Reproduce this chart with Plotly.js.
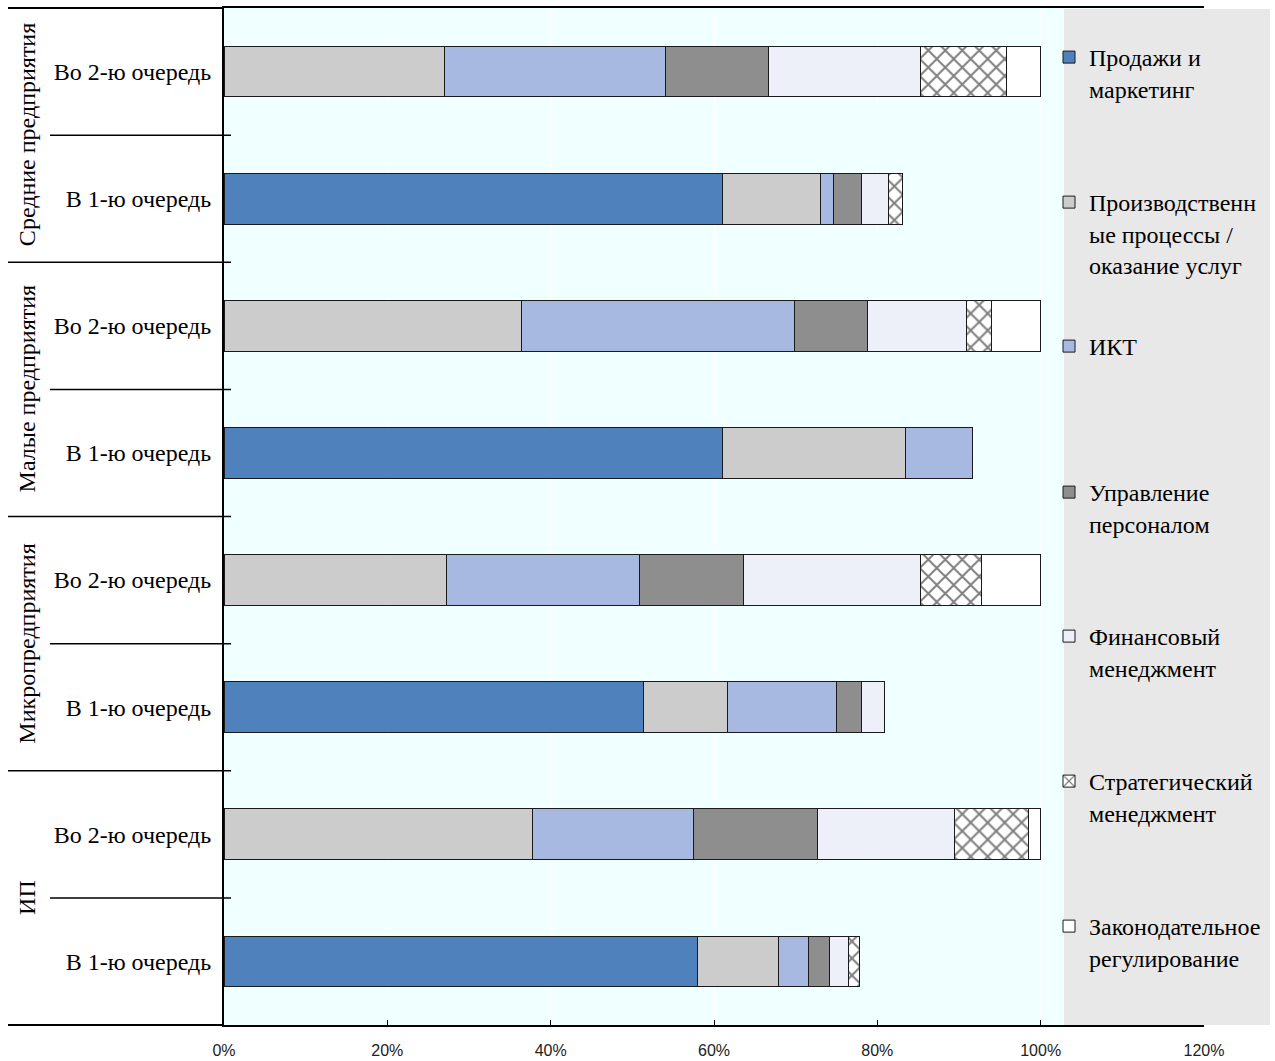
<!DOCTYPE html>
<html>
<head>
<meta charset="utf-8">
<script src="https://cdn.plot.ly/plotly-3.0.1.min.js"></script>
<style>html,body{margin:0;padding:0;background:#fff;}#chart{width:1275px;height:1061px;}</style>
</head>
<body>
<div id="chart"></div>
<script>
// Rows, top to bottom
const groups = ["Средние предприятия", "Малые предприятия", "Микропредприятия", "ИП"];
const subLabels = ["Во 2-ю очередь", "В 1-ю очередь"];
const seriesNames = ["Продажи и<br>маркетинг", "Производственн<br>ые процессы /<br>оказание услуг", "ИКТ", "Управление<br>персоналом", "Финансовый<br>менеджмент", "Стратегический<br>менеджмент", "Законодательное<br>регулирование"];

// values, % (order: Ср 2-я, Ср 1-я, Мал 2-я, Мал 1-я, Микро 2-я, Микро 1-я, ИП 2-я, ИП 1-я)
const sales  = [0, 61.0, 0, 61.1, 0, 51.4, 0, 58.0];
const prod   = [27.0, 12.0, 36.4, 22.3, 27.2, 10.3, 37.8, 9.9];
const ict    = [27.1, 1.6, 33.4, 8.3, 23.7, 13.3, 19.7, 3.7];
const hr     = [12.6, 3.4, 9.0, 0, 12.7, 3.0, 15.2, 2.5];
const fin    = [18.6, 3.4, 12.1, 0, 21.7, 2.9, 16.8, 2.4];
const strat  = [10.5, 1.7, 3.1, 0, 7.5, 0, 9.0, 1.3];
const law    = [4.2, 0, 6.0, 0, 7.2, 0, 1.5, 0];

const xTicks = [0, 20, 40, 60, 80, 100, 120];

const categories = [];
const catText = [];
groups.forEach(g => subLabels.forEach(s => { categories.push(g + " — " + s); catText.push(s); }));

const colors = ["#4f81bd", "#cccccc", "#a7b9e1", "#8e8e8e", "#edf0f8", "#ffffff", "#ffffff"];
const values = [sales, prod, ict, hr, fin, strat, law];

// geometry (pixels of the 1275x1061 page)
const L = 224, R = 1204, T = 8, B = 1025;
const W = R - L, H = B - T;
const px = x => (x - L) / W;
const py = y => (B - y) / H;

const legendTextY = [58, 203, 347, 493, 637, 782, 927];
const FS = 24;

const traces = values.map((v, i) => {
  const t = {
    type: "bar", orientation: "h",
    x: v, y: categories, name: seriesNames[i],
    width: 0.4,
    marker: {color: colors[i], line: {color: "#1a1a1a", width: 1}},
    legend: i === 0 ? "legend" : "legend" + (i + 1),
    hoverinfo: "x+name"
  };
  if (i === 5) {
    t.marker.pattern = {shape: "x", fgcolor: "#000", bgcolor: "#ffffff", size: 12, solidity: 0.3, fillmode: "overlay"};
  }
  return t;
});

const layout = {
  width: 1275, height: 1061,
  margin: {l: L, r: 1275 - R, t: T, b: 1061 - B, pad: 0},
  paper_bgcolor: "#ffffff",
  plot_bgcolor: "#f0ffff",
  barmode: "stack",
  showlegend: true,
  font: {family: "Liberation Serif", size: FS, color: "#000"},
  xaxis: {
    range: [0, 120], tickvals: xTicks, ticktext: xTicks.map(v => v + "%"),
    showgrid: true, gridcolor: "#ffffff", gridwidth: 1,
    zeroline: false,
    ticks: "inside", ticklen: 5, tickcolor: "#000", tickwidth: 1,
    showline: true, linecolor: "#000", linewidth: 2, mirror: true,
    tickfont: {family: "Liberation Sans", size: 16, color: "#222"},
    ticklabelstandoff: 10
  },
  yaxis: {
    type: "category", categoryorder: "array", categoryarray: categories,
    range: [categories.length - 0.5, -0.5],
    tickvals: categories, ticktext: catText,
    showgrid: false, zeroline: false, ticks: "",
    showline: true, linecolor: "#000", linewidth: 2, mirror: false,
    tickfont: {family: "Liberation Serif", size: FS, color: "#000"},
    ticklabelstandoff: 6
  },
  shapes: [],
  annotations: []
};

// grey legend panel
layout.shapes.push({type: "rect", xref: "paper", yref: "paper", x0: px(1064), x1: px(1270), y0: 0, y1: py(9),
  fillcolor: "#e8e8e8", line: {width: 0}, layer: "below"});

// top and bottom frame extensions to the left
layout.shapes.push({type: "line", xref: "paper", yref: "paper", x0: px(8), x1: 0, y0: 1, y1: 1, line: {color: "#000", width: 2}});
layout.shapes.push({type: "line", xref: "paper", yref: "paper", x0: px(8), x1: 0, y0: 0, y1: 0, line: {color: "#000", width: 2}});

// category separators
for (let i = 0; i < categories.length - 1; i++) {
  const long = (i % 2 === 1);
  layout.shapes.push({type: "line", xref: "paper", yref: "y",
    x0: long ? px(8) : px(50), x1: px(231), y0: i + 0.5, y1: i + 0.5,
    line: {color: "#000", width: 1.5}});
}

// group labels
groups.forEach((g, gi) => {
  layout.annotations.push({xref: "paper", yref: "y", x: px(27), y: gi * 2 + 0.5,
    text: g, textangle: -90, showarrow: false,
    font: {family: "Liberation Serif", size: FS, color: "#000"},
    xanchor: "center", yanchor: "middle"});
});

// legends
values.forEach((v, i) => {
  const key = i === 0 ? "legend" : "legend" + (i + 1);
  layout[key] = {
    x: px(1049), xanchor: "left", xref: "paper",
    y: py(legendTextY[i] - 23), yanchor: "top", yref: "paper",
    bgcolor: "rgba(0,0,0,0)", borderwidth: 0,
    valign: "top",
    font: {family: "Liberation Serif", size: FS, color: "#000"},
    itemclick: false, itemdoubleclick: false
  };
});

Plotly.newPlot("chart", traces, layout, {displayModeBar: false, responsive: false});
</script>
</body>
</html>
